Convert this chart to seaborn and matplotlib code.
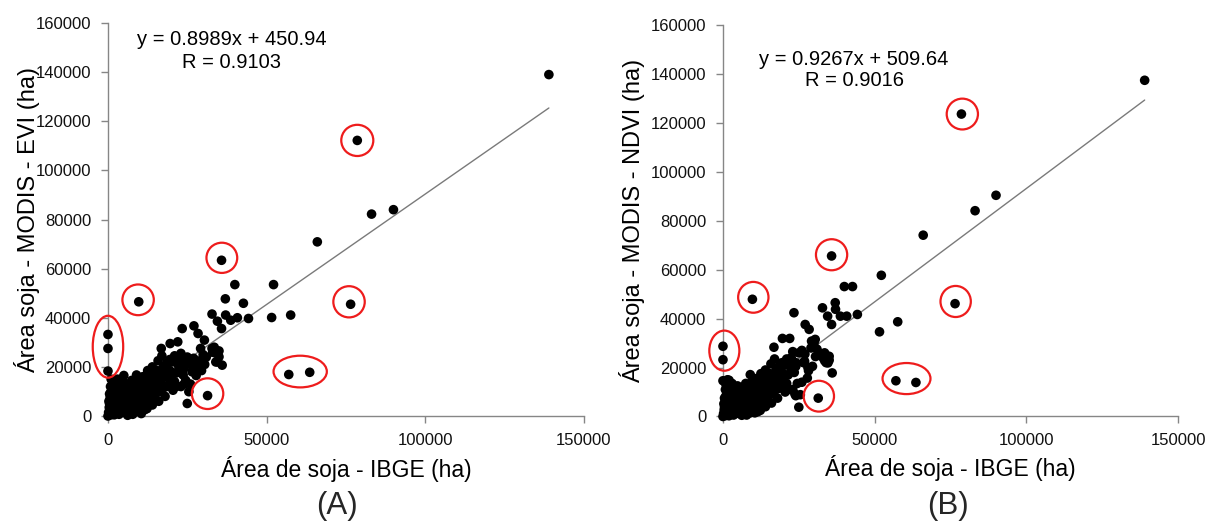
import numpy as np
import pandas as pd
import matplotlib
matplotlib.use("Agg")
import matplotlib.pyplot as plt
from matplotlib.patches import Ellipse
import seaborn as sns

# Soybean area per municipality: IBGE census (x) vs. MODIS classification (y), in ha
ibge_area = [
    139000, 78600, 90000, 83100, 66000, 35800, 52200, 40000, 9700, 76500,
    57600, 51600, 57000, 63600, 31400, 25000, 0, 0, 0, 42700,
    37000, 44300, 32800, 37100, 38700, 40800, 34500, 35800, 27100, 23400,
    28400, 30400, 22000, 19600, 16800, 29200, 32800, 35000, 36000, 9000,
    34600, 26900, 28200, 27800, 23700, 25500, 1500, 24000, 33500,
    0, 200, 400, 300, 500, 800, 1000, 1200, 1500, 1800,
    1600, 2000, 2200, 2500, 2800, 3000, 3200, 3500, 3800, 4000,
    4200, 4500, 4800, 5000, 5300, 5500, 5800, 6000, 6200, 6500,
    6800, 7000, 7300, 7500, 7800, 8000, 8300, 8500, 8800, 9000,
    9300, 9600, 10000, 10200, 10500, 11000, 11300, 11600, 12000, 12300,
    12700, 13000, 13300, 13700, 14000, 14300, 14700, 15000, 15500, 16000,
    16300, 16700, 17000, 17500, 18000, 18500, 19000, 19500, 20000, 20500,
    21000, 21500, 22000, 22500, 23000, 23500, 24000, 24500, 25000, 26000,
    26500, 27000, 28000, 29000, 30000, 31000, 33000, 34000, 33500, 35000,
    500, 700, 1000, 1300, 2500, 3500, 2000, 3000, 4500, 5500,
    6500, 7000, 8000, 9000, 9500, 10000, 10800, 11500, 12000, 12500,
    13500, 14500, 15000, 15500, 16500, 17500, 18000, 18500, 19000, 19500,
    20500, 21000, 21500, 22500, 23000, 24000, 14000, 12500, 11000, 15800,
    17000, 3000, 5000, 1000, 26000, 30500, 29500,
]

modis_evi = [
    139000, 112200, 84000, 82200, 70900, 63400, 53500, 53500, 46500, 45500,
    41100, 40100, 16900, 17800, 8300, 5100, 33200, 27500, 18300, 45900,
    47700, 39700, 41500, 41100, 39000, 40000, 38600, 35600, 36700, 35600,
    33600, 30900, 30200, 29500, 27500, 27500, 27500, 24100, 20700, 16700,
    22000, 22500, 19500, 16500, 16700, 9900, 14000, 13000, 25800,
    0, 1500, 3500, 6000, 9000, 12000, 500, 2500, 5000, 7500,
    10500, 13500, 1200, 3800, 6500, 9500, 12500, 700, 2800, 5200,
    8000, 11000, 14000, 1500, 4000, 6500, 9500, 12500, 300, 2500,
    5000, 8000, 11000, 14500, 700, 3500, 6000, 9000, 12000, 2000,
    4500, 7500, 10500, 13500, 1000, 5500, 8500, 12000, 15500, 3000,
    7000, 10000, 14000, 17000, 4500, 8500, 12000, 15500, 18500, 6000,
    10000, 13500, 17000, 20000, 8000, 12000, 15500, 18500, 22000, 10500,
    14000, 17500, 21000, 23500, 12000, 19000, 22500, 14500, 24000, 21000,
    18000, 23500, 20000, 22500, 25000, 24000, 26000, 22000, 28000, 26500,
    5000, 7500, 10000, 12500, 8000, 10500, 500, 2000, 2000, 3000,
    7000, 10000, 13000, 11000, 14500, 3500, 9500, 2500, 6000, 11500,
    8000, 11000, 7000, 12500, 15500, 11500, 16500, 21500, 12500, 23000,
    17500, 24500, 12000, 19000, 25500, 19500, 20000, 18500, 16000, 22500,
    24500, 15000, 16500, 15000, 13000, 21000, 18500,
]

modis_ndvi = [
    137400, 123600, 90400, 84100, 74100, 65600, 57700, 53100, 47900, 46100,
    38700, 34600, 14600, 13900, 7500, 3800, 28700, 23200, 14600, 53100,
    46500, 41700, 44400, 43800, 41000, 41000, 41000, 37600, 37600, 42400,
    35600, 31500, 31900, 31900, 28300, 30800, 25600, 24600, 17800, 17100,
    21900, 22600, 18700, 15700, 9200, 8900, 15000, 8500, 22800,
    0, 1200, 2800, 5200, 7500, 11000, 400, 2000, 4200, 6500,
    9000, 14800, 900, 3200, 5500, 8200, 10500, 600, 2500, 4500,
    7000, 9500, 12500, 1300, 3500, 6000, 8500, 11500, 500, 2000,
    4500, 7500, 10000, 13500, 600, 3000, 5500, 8500, 11500, 1500,
    4000, 7000, 10000, 13000, 1500, 5000, 8000, 11000, 14500, 2500,
    6500, 9500, 13000, 16000, 4000, 8000, 11500, 15000, 17500, 5500,
    9500, 13000, 16500, 19000, 7500, 11500, 15000, 18000, 21000, 10000,
    13500, 17000, 20500, 24000, 11000, 18000, 22000, 13500, 26000, 27000,
    22000, 25500, 20000, 28000, 30000, 27500, 24000, 22000, 26000, 23000,
    4000, 6000, 8500, 12000, 7000, 9500, 300, 1500, 1800, 2800,
    6500, 9000, 12500, 10500, 14000, 3000, 9000, 2000, 5500, 10500,
    7500, 10500, 6500, 12000, 14500, 11000, 16000, 20500, 12000, 22000,
    17000, 23500, 11000, 18500, 26500, 20500, 19000, 17500, 15500, 21500,
    23500, 13500, 12000, 13000, 14000, 24500, 20500,
]

# Linear fits reported for each index: slope, intercept, R
evi_fit = (0.8989, 450.94, 0.9103)
ndvi_fit = (0.9267, 509.64, 0.9016)

# Municipalities flagged as outliers: centre x, centre y, width, height (ha)
evi_outliers = [
    (0, 28200, 9600, 25200),
    (9500, 47300, 9900, 12500),
    (35900, 64400, 9700, 12300),
    (78600, 112200, 10100, 12700),
    (76000, 46500, 9900, 12700),
    (60600, 18100, 16800, 12900),
    (31400, 9100, 9900, 12500),
]
ndvi_outliers = [
    (450, 26900, 9900, 16400),
    (10000, 48700, 10000, 12600),
    (35800, 66100, 10300, 12700),
    (78900, 123600, 10300, 12600),
    (76700, 47000, 10000, 12700),
    (60500, 15500, 15800, 12700),
    (31600, 8300, 10000, 12600),
]

df = pd.DataFrame({"ibge": ibge_area, "evi": modis_evi, "ndvi": modis_ndvi})

sns.set_theme(style="white")
plt.rcParams["font.family"] = ["Liberation Sans", "DejaVu Sans"]

fig = plt.figure(figsize=(12.2, 5.25), dpi=100)
ax_a = fig.add_axes([0.0885, 0.2076, 0.390, 0.7486])
ax_b = fig.add_axes([0.5926, 0.2067, 0.373, 0.7457])

GRAY = "#868686"


def draw_panel(ax, col, fit, outliers, ylabel, eq_pos, ylab_x, xlab_y):
    slope, intercept, r = fit
    xs = np.array([df["ibge"].min(), df["ibge"].max()])
    sns.lineplot(x=xs, y=slope * xs + intercept, ax=ax, color="#7a7a7a",
                 linewidth=1.0, zorder=2)
    sns.scatterplot(data=df, x="ibge", y=col, ax=ax, color="black", s=48,
                    edgecolor="none", linewidth=0, zorder=3, clip_on=False)
    for cx, cy, w, h in outliers:
        ax.add_patch(Ellipse((cx, cy), w, h, fill=False, edgecolor="#ee1c1c",
                             linewidth=1.6, zorder=4, clip_on=False))

    ax.set_xlim(0, 150000)
    ax.set_ylim(0, 160000)
    ax.set_xticks([0, 50000, 100000, 150000])
    ax.set_yticks(np.arange(0, 160001, 20000))
    ax.tick_params(axis="both", direction="out", length=5, width=1,
                   color=GRAY, labelsize=12, labelcolor="#111111", pad=7,
                   left=True, bottom=True)
    for side in ("top", "right"):
        ax.spines[side].set_visible(False)
    for side in ("left", "bottom"):
        ax.spines[side].set_color(GRAY)
        ax.spines[side].set_linewidth(1)

    ax.set_xlabel("Área de soja - IBGE (ha)", fontsize=16.5, color="black")
    ax.set_ylabel(ylabel, fontsize=17, color="black")
    ax.xaxis.set_label_coords(0.5, xlab_y)
    ax.yaxis.set_label_coords(ylab_x, 0.5)
    ax.xaxis.label.set_va("center")
    ax.yaxis.label.set_va("center")

    ex, ey, ry = eq_pos
    ax.text(ex, ey, f"y = {slope}x + {intercept}", transform=ax.transAxes,
            ha="center", va="center", fontsize=14.5, color="black")
    ax.text(ex, ry, f"R = {r}", transform=ax.transAxes,
            ha="center", va="center", fontsize=14.5, color="black")


draw_panel(ax_a, "evi", evi_fit, evi_outliers,
           "Área soja - MODIS - EVI (ha)", (0.26, 0.957, 0.90), -0.171, -0.135)
draw_panel(ax_b, "ndvi", ndvi_fit, ndvi_outliers,
           "Área soja - MODIS - NDVI (ha)", (0.288, 0.913, 0.857), -0.20, -0.1315)

fig.text(337.5 / 1220, 1 - 506 / 525, "(A)", ha="center", va="center", fontsize=22.5)
fig.text(948 / 1220, 1 - 506 / 525, "(B)", ha="center", va="center", fontsize=22.5)

fig.savefig("out.png", dpi=100, facecolor="white")
